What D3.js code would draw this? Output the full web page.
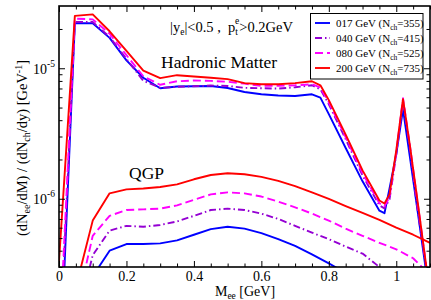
<!DOCTYPE html>
<html><head><meta charset="utf-8">
<script src="https://cdn.jsdelivr.net/npm/d3@7/dist/d3.min.js"></script>
<style>
body{margin:0;background:#fff}
svg{display:block}
text{font-family:"Liberation Serif","Times New Roman",serif;fill:#000}
</style>
</head><body>
<svg id="c" width="431" height="300"></svg>
<script>
// ---------- data ----------
const hadMass = [0, 0.047, 0.1, 0.15, 0.2, 0.25, 0.3, 0.35, 0.4, 0.45, 0.5, 0.55, 0.6, 0.65, 0.7, 0.75, 0.775, 0.8, 0.85, 0.9, 0.95, 0.965, 0.98, 1.0, 1.02, 1.04, 1.06, 1.09];
const had017 = [3.1e-8, 2.21e-5, 2.21e-5, 1.71e-5, 1.15e-5, 8.46e-6, 7.03e-6, 7.24e-6, 7.28e-6, 7.32e-6, 7.06e-6, 6.58e-6, 6.32e-6, 6.18e-6, 6.13e-6, 6.32e-6, 5.96e-6, 4.45e-6, 2.45e-6, 1.36e-6, 8.1e-7, 7.75e-7, 1.2e-6, 2.2e-6, 4.85e-6, 2.12e-6, 9.2e-7, 2.6e-7];
const had040 = [5e-8, 2.26e-5, 2.26e-5, 1.74e-5, 1.18e-5, 8.02e-6, 7.09e-6, 7.21e-6, 7.28e-6, 7.37e-6, 7.32e-6, 7.08e-6, 7.03e-6, 6.99e-6, 7.15e-6, 7.41e-6, 6.9e-6, 5.3e-6, 2.86e-6, 1.51e-6, 8.9e-7, 8.45e-7, 9.9e-7, 2.19e-6, 5.59e-6, 2.48e-6, 9.4e-7, 2.8e-7];
const had080 = [6.7e-8, 2.4e-5, 2.37e-5, 1.84e-5, 1.26e-5, 8.68e-6, 7.47e-6, 7.95e-6, 8.06e-6, 8.0e-6, 7.88e-6, 7.62e-6, 7.34e-6, 7.34e-6, 7.41e-6, 7.54e-6, 7.11e-6, 5.49e-6, 2.96e-6, 1.57e-6, 9.24e-7, 8.76e-7, 1.03e-6, 2.27e-6, 5.89e-6, 2.61e-6, 1.08e-6, 2.9e-7];
const had200 = [3.3e-7, 2.52e-5, 2.59e-5, 1.92e-5, 1.36e-5, 9.6e-6, 8.4e-6, 8.85e-6, 8.65e-6, 8.45e-6, 8.25e-6, 7.7e-6, 7.55e-6, 7.55e-6, 7.7e-6, 7.95e-6, 7.4e-6, 5.7e-6, 3.1e-6, 1.65e-6, 9.7e-7, 9.2e-7, 1.08e-6, 2.35e-6, 5.8e-6, 2.6e-6, 1.1e-6, 2.9e-7];

const qgpMass = [0.05, 0.1, 0.15, 0.2, 0.25, 0.3, 0.35, 0.4, 0.45, 0.5, 0.55, 0.6, 0.65, 0.7, 0.75, 0.8, 0.85, 0.9, 0.95, 1.0, 1.05, 1.1];
const qgp017 = [5e-8, 2.55e-7, 4.0e-7, 4.5e-7, 4.5e-7, 4.55e-7, 4.8e-7, 5.3e-7, 5.85e-7, 6.1e-7, 5.9e-7, 5.45e-7, 4.9e-7, 4.35e-7, 3.75e-7, 3.2e-7, 2.7e-7, 2.3e-7, 1.9e-7, 1.6e-7, 1.35e-7, 1.13e-7];
const qgp040 = [1.1e-7, 3.7e-7, 5.7e-7, 6.2e-7, 6.1e-7, 6.3e-7, 6.7e-7, 7.4e-7, 8.2e-7, 8.4e-7, 8.2e-7, 7.7e-7, 7.0e-7, 6.2e-7, 5.5e-7, 4.9e-7, 4.3e-7, 3.8e-7, 3.0e-7, 2.3e-7, 1.8e-7, 1.4e-7];
const qgp080 = [1.4e-7, 5.2e-7, 7.4e-7, 8.2e-7, 8.3e-7, 8.4e-7, 8.9e-7, 9.8e-7, 1.08e-6, 1.12e-6, 1.10e-6, 1.04e-6, 9.5e-7, 8.6e-7, 7.7e-7, 6.8e-7, 5.9e-7, 5.2e-7, 4.6e-7, 4.1e-7, 3.5e-7, 2.6e-7];
const qgp200 = [2.1e-7, 6.8e-7, 1.10e-6, 1.18e-6, 1.20e-6, 1.23e-6, 1.29e-6, 1.41e-6, 1.52e-6, 1.57e-6, 1.54e-6, 1.47e-6, 1.37e-6, 1.25e-6, 1.12e-6, 1.0e-6, 8.8e-7, 7.8e-7, 6.9e-7, 6.0e-7, 5.3e-7, 4.6e-7];

const energies = ["017 GeV", "040 GeV", "080 GeV", "200 GeV"];
const nchValues = ["355", "415", "525", "735"];
const xTickValues = [0, 0.2, 0.4, 0.6, 0.8, 1];
const xTickLabels = ["0", "0.2", "0.4", "0.6", "0.8", "1"];
const yMajorValues = [1e-6, 1e-5];
const yMajorExponents = ["-6", "-5"];

// ---------- styles ----------
const colors = ["#0000ff", "#9400d3", "#ff00ff", "#ff0000"];
const dashes = [null, "7,3,1.5,3", "8,4", null];

// ---------- layout ----------
const svg = d3.select("#c");
const L = 59, R = 430, T = 6, B = 267;
const x = d3.scaleLinear().domain([0, 1.1]).range([L, R]);
const y = d3.scaleLog().domain([3e-7, 3e-5]).range([B, T]);

svg.append("defs").append("clipPath").attr("id", "clip")
  .append("rect").attr("x", L).attr("y", T).attr("width", R - L).attr("height", B - T);

const line = d3.line().x(d => x(d[0])).y(d => y(d[1]));
const gLines = svg.append("g").attr("clip-path", "url(#clip)");

const hadSeries = [had017, had040, had080, had200];
const qgpSeries = [qgp017, qgp040, qgp080, qgp200];
[0, 1, 2, 3].forEach(i => {
  [[qgpMass, qgpSeries[i]], [hadMass, hadSeries[i]]].forEach(([ms, vs]) => {
    gLines.append("path")
      .datum(ms.map((m, k) => [m, vs[k]]))
      .attr("d", line)
      .attr("fill", "none")
      .attr("stroke", colors[i])
      .attr("stroke-width", 1.9)
      .attr("stroke-linejoin", "round")
      .attr("stroke-dasharray", dashes[i]);
  });
});

// ---------- axes ----------
const xMinor = d3.range(0, 1.1001, 0.05).filter(v => Math.abs(v / 0.2 - Math.round(v / 0.2)) > 1e-6);
const yMinor = [];
for (let e = -7; e <= -5; e++) for (let k = 2; k <= 9; k++) {
  const v = k * Math.pow(10, e);
  if (v >= 3e-7 && v <= 3e-5) yMinor.push(v);
}

function styleAxis(g) {
  g.select(".domain").remove();
  g.selectAll("line").attr("stroke", "#000").attr("stroke-width", 1);
}

// bottom
svg.append("g").attr("transform", `translate(0,${B})`)
  .call(d3.axisBottom(x).tickValues(xTickValues).tickFormat((d, i) => xTickLabels[i]).tickSize(-6).tickPadding(4))
  .call(styleAxis)
  .selectAll("text").attr("font-size", 14).attr("font-family", "Liberation Serif");
svg.append("g").attr("transform", `translate(0,${B})`)
  .call(d3.axisBottom(x).tickValues(xMinor).tickFormat("").tickSize(-3.5))
  .call(styleAxis);
// top
svg.append("g").attr("transform", `translate(0,${T})`)
  .call(d3.axisTop(x).tickValues(xTickValues).tickFormat("").tickSize(-6))
  .call(styleAxis);
svg.append("g").attr("transform", `translate(0,${T})`)
  .call(d3.axisTop(x).tickValues(xMinor).tickFormat("").tickSize(-3.5))
  .call(styleAxis);
// left
const gl = svg.append("g").attr("transform", `translate(${L},0)`)
  .call(d3.axisLeft(y).tickValues(yMajorValues).tickFormat(() => "").tickSize(-6).tickPadding(4))
  .call(styleAxis);
gl.selectAll(".tick text").each(function(d, i) {
  const t = d3.select(this).attr("font-size", 14).attr("font-family", "Liberation Serif").attr("dy", "0.35em");
  t.append("tspan").text("10");
  t.append("tspan").attr("font-size", 9.5).attr("dy", "-0.75em").text(yMajorExponents[i]);
});
svg.append("g").attr("transform", `translate(${L},0)`)
  .call(d3.axisLeft(y).tickValues(yMinor).tickFormat("").tickSize(-3.5))
  .call(styleAxis);
// right
svg.append("g").attr("transform", `translate(${R},0)`)
  .call(d3.axisRight(y).tickValues(yMajorValues).tickFormat("").tickSize(-6))
  .call(styleAxis);
svg.append("g").attr("transform", `translate(${R},0)`)
  .call(d3.axisRight(y).tickValues(yMinor).tickFormat("").tickSize(-3.5))
  .call(styleAxis);

// frame
svg.append("rect").attr("x", L).attr("y", T).attr("width", R - L).attr("height", B - T)
  .attr("fill", "none").attr("stroke", "#000").attr("stroke-width", 1.6);

// ---------- axis titles ----------
const xt = svg.append("text").attr("x", 245).attr("y", 295.5).attr("text-anchor", "middle").attr("font-size", 14);
xt.append("tspan").text("M");
xt.append("tspan").attr("font-size", 9.5).attr("dy", 3).text("ee");
xt.append("tspan").attr("dy", -3).text(" [GeV]");

const yt = svg.append("text").attr("transform", "translate(27,148) rotate(-90)").attr("text-anchor", "middle").attr("font-size", 14.5);
yt.append("tspan").text("(dN");
yt.append("tspan").attr("font-size", 10).attr("dy", 3).text("ee");
yt.append("tspan").attr("dy", -3).text("/dM) / (dN");
yt.append("tspan").attr("font-size", 10).attr("dy", 3).text("ch");
yt.append("tspan").attr("dy", -3).text("/dy)  [GeV");
yt.append("tspan").attr("font-size", 10).attr("dy", -5).text("-1");
yt.append("tspan").attr("dy", 5).text("]");

// ---------- annotations ----------
const cut = svg.append("text").attr("x", 170).attr("y", 32).attr("font-size", 14.5);
cut.append("tspan").text("|y");
cut.append("tspan").attr("font-size", 9.5).attr("dy", 3).text("e");
cut.append("tspan").attr("dy", -3).text("|<0.5 ,\u00a0\u00a0p");
cut.append("tspan").attr("font-size", 9.5).attr("dy", 3).text("t");
cut.append("tspan").attr("font-size", 9.5).attr("dx", -3).attr("dy", -11).text("e");
cut.append("tspan").attr("dy", 8).text(">0.2GeV");

svg.append("text").attr("x", 161).attr("y", 68).attr("font-size", 17.5).text("Hadronic Matter");
svg.append("text").attr("x", 129).attr("y", 179).attr("font-size", 17.5).text("QGP");

// ---------- legend ----------
const lg = svg.append("g");
lg.append("rect").attr("x", 310.5).attr("y", 13.5).attr("width", 112.5).attr("height", 65.5)
  .attr("fill", "#fff").attr("stroke", "#000").attr("stroke-width", 1);
[0, 1, 2, 3].forEach(i => {
  const cy = 23 + i * 15;
  lg.append("line").attr("x1", 315).attr("x2", 330).attr("y1", cy).attr("y2", cy)
    .attr("stroke", colors[i]).attr("stroke-width", 1.9).attr("stroke-dasharray", dashes[i]);
  const t = lg.append("text").attr("x", 336).attr("y", cy + 4).attr("font-size", 11);
  t.append("tspan").text(energies[i] + " (N");
  t.append("tspan").attr("font-size", 7.5).attr("dy", 3).text("ch");
  t.append("tspan").attr("dy", -3).text("=" + nchValues[i] + ")");
});
</script>
</body></html>
